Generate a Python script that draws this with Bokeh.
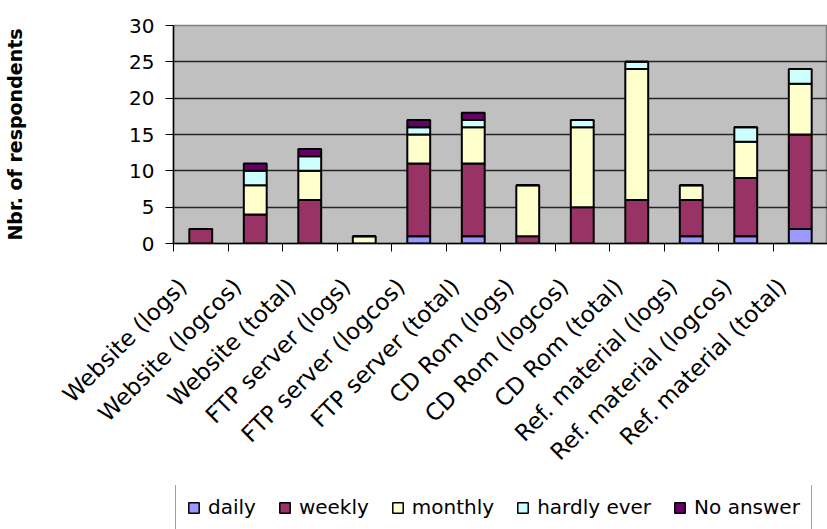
from math import pi

from bokeh.embed import file_html
from bokeh.layouts import column
from bokeh.models import ColumnDataSource, FixedTicker, Legend, LegendItem, Range1d
from bokeh.plotting import figure
from bokeh.resources import INLINE

# Survey answers per information channel
categories = [
    "Website (logs)", "Website (logcos)", "Website (total)",
    "FTP server (logs)", "FTP server (logcos)", "FTP server (total)",
    "CD Rom (logs)", "CD Rom (logcos)", "CD Rom (total)",
    "Ref. material (logs)", "Ref. material (logcos)", "Ref. material (total)",
]
daily = [0, 0, 0, 0, 1, 1, 0, 0, 0, 1, 1, 2]
weekly = [2, 4, 6, 0, 10, 10, 1, 5, 6, 5, 8, 13]
monthly = [0, 4, 4, 1, 4, 5, 7, 11, 18, 2, 5, 7]
hardly_ever = [0, 2, 2, 0, 1, 1, 0, 1, 1, 0, 2, 2]
no_answer = [0, 1, 1, 0, 1, 1, 0, 0, 0, 0, 0, 0]

series = ["daily", "weekly", "monthly", "hardly ever", "No answer"]
colors = ["#9999FF", "#993366", "#FFFFCC", "#CCFFFF", "#660066"]
y_ticks = [0, 5, 10, 15, 20, 25, 30]

FONT = "DejaVu Sans"

centers = [i + 0.5 for i in range(len(categories))]
source = ColumnDataSource(dict(
    x=centers,
    daily=daily,
    weekly=weekly,
    monthly=monthly,
    hardly=hardly_ever,
    noans=no_answer,
))
keys = ["daily", "weekly", "monthly", "hardly", "noans"]
bar_style = dict(x="x", width=0.42, source=source, fill_color=colors,
                 line_color="black")

p = figure(
    width=827, height=485,
    x_range=Range1d(0, len(categories)), y_range=Range1d(0, 30),
    output_backend="svg", toolbar_location=None,
    min_border_left=173, min_border_right=0,
    min_border_top=25, min_border_bottom=242,
)
p.background_fill_color = "#C0C0C0"
p.border_fill_color = "white"
p.outline_line_color = "#808080"
p.outline_line_width = 1.5

p.vbar_stack(keys, line_width=2, **bar_style)

# x axis: slanted names hang just left of each bar, tick marks between categories
label_shift = 0.33
label_pos = [c - label_shift for c in centers]
xa = p.xaxis[0]
xa.ticker = FixedTicker(ticks=label_pos, minor_ticks=list(range(len(categories) + 1)))
xa.major_label_overrides = {t: name for t, name in zip(label_pos, categories)}
xa.major_label_orientation = pi / 4
xa.major_tick_in = 0
xa.major_tick_out = 0
xa.minor_tick_in = 0
xa.minor_tick_out = 8
xa.minor_tick_line_color = "black"
xa.minor_tick_line_width = 1
xa.axis_line_color = "black"
xa.axis_line_width = 1.5
xa.major_label_text_font = FONT
xa.major_label_text_font_size = "23px"
xa.major_label_text_color = "black"
xa.major_label_standoff = 31

ya = p.yaxis[0]
ya.ticker = FixedTicker(ticks=y_ticks, minor_ticks=[])
ya.major_tick_in = 0
ya.major_tick_out = 8
ya.major_tick_line_color = "black"
ya.axis_line_color = "black"
ya.axis_line_width = 1.5
ya.major_label_text_font = FONT
ya.major_label_text_font_size = "20px"
ya.major_label_text_color = "black"
ya.major_label_standoff = 11
ya.axis_label = "Nbr. of respondents"
ya.axis_label_text_font = FONT
ya.axis_label_text_font_style = "bold"
ya.axis_label_text_font_size = "19px"
ya.axis_label_text_color = "black"
ya.axis_label_standoff = 100

p.xgrid.visible = False
p.ygrid.ticker = FixedTicker(ticks=y_ticks[1:-1])
p.ygrid.grid_line_color = "#262626"
p.ygrid.grid_line_width = 1.5

# legend strip under the chart; its swatches come from hidden copies of the stacks
lg = figure(
    width=827, height=44, output_backend="svg", toolbar_location=None,
    x_axis_type=None, y_axis_type=None,
    min_border_left=0, min_border_right=0, min_border_top=0, min_border_bottom=0,
)
lg.outline_line_color = None
lg.grid.visible = False
swatches = lg.vbar_stack(keys, line_width=1.5, **bar_style)
for r in swatches:
    r.visible = False

legend = Legend(
    items=[LegendItem(label=s, renderers=[r]) for s, r in zip(series, swatches)],
    orientation="horizontal",
    location=(2, -2),
    margin=0,
    padding=11,
    spacing=22,
    glyph_width=13, glyph_height=13,
    label_standoff=8,
    label_text_font=FONT,
    label_text_font_size="20px",
    label_text_color="black",
    border_line_color="#404040",
    border_line_width=1,
    background_fill_color="white",
    background_fill_alpha=1,
    inactive_fill_alpha=0,
    click_policy="none",
)
lg.add_layout(legend, "center")

layout = column(p, lg, spacing=0)
open("out.html", "w").write(file_html(layout, INLINE))
